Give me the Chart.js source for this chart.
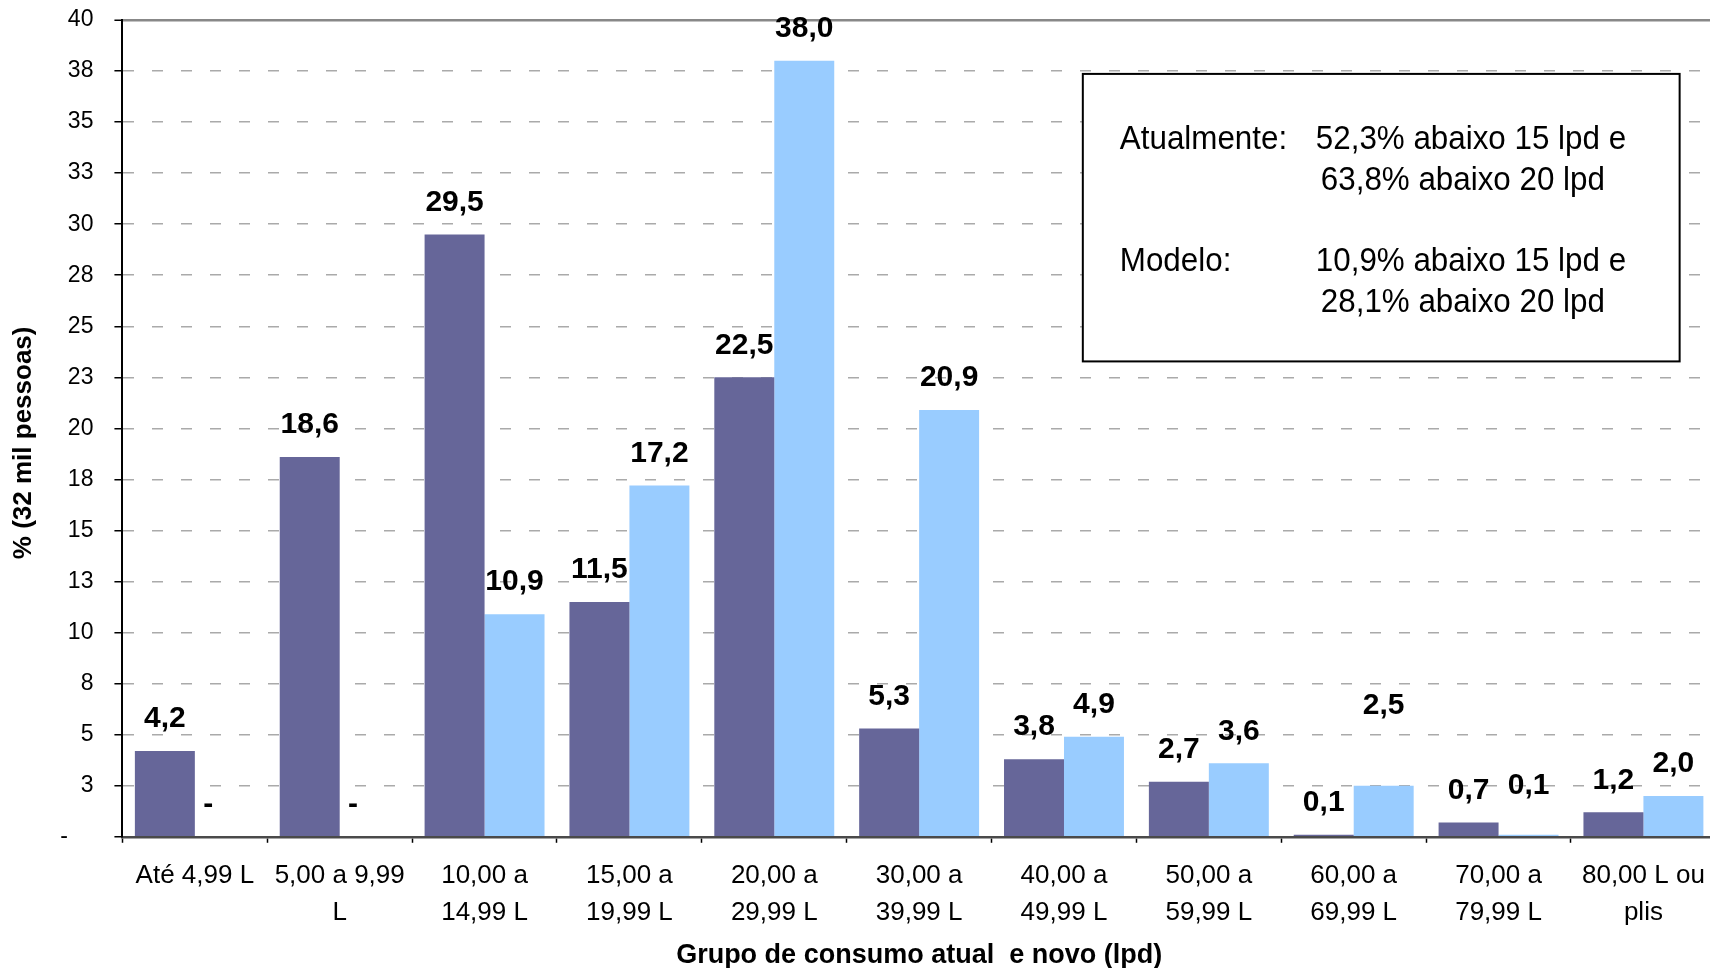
<!DOCTYPE html>
<html lang="pt">
<head>
<meta charset="utf-8">
<title>Grupo de consumo atual e novo</title>
<script src="https://cdn.jsdelivr.net/npm/chart.js@4.4.1/dist/chart.umd.min.js"></script>
<style>
  html, body { margin: 0; padding: 0; background: #fff; overflow: hidden; }
  #wrap { position: relative; width: 1720px; height: 968px; }
</style>
</head>
<body>
<div id="wrap"><canvas id="consumoChart"></canvas></div>
<script>
const categorias = [
    ['Até 4,99 L'],
    ['5,00 a 9,99', 'L'],
    ['10,00 a', '14,99 L'],
    ['15,00 a', '19,99 L'],
    ['20,00 a', '29,99 L'],
    ['30,00 a', '39,99 L'],
    ['40,00 a', '49,99 L'],
    ['50,00 a', '59,99 L'],
    ['60,00 a', '69,99 L'],
    ['70,00 a', '79,99 L'],
    ['80,00 L ou', 'plis']
];
const atual = [4.2, 18.6, 29.5, 11.5, 22.5, 5.3, 3.8, 2.7, 0.1, 0.7, 1.2];
const modelo = [0, 0, 10.9, 17.2, 38.0, 20.9, 4.9, 3.6, 2.5, 0.1, 2.0];
const yTicks = ['-    ', '3', '5', '8', '10', '13', '15', '18', '20', '23', '25', '28', '30', '33', '35', '38', '40'];
const notaLinhas = [
    ['Atualmente:', '52,3% abaixo 15 lpd e'],
    ['', '63,8% abaixo 20 lpd'],
    ['Modelo:', '10,9% abaixo 15 lpd e'],
    ['', '28,1% abaixo 20 lpd']
];

const FONTE = '"Liberation Sans", Arial, sans-serif';

// formato contábil do Excel: zero vira "-"
function fmt(v) {
    return v === 0 ? '-    ' : v.toFixed(1).replace('.', ',');
}

// alguns rótulos estão mais altos no original
const ajusteRotulo = { '1-8': 48, '1-9': 17 };

const rotulos = {
    id: 'rotulos',
    afterDatasetsDraw(chart) {
        const c = chart.ctx;
        c.save();
        c.font = 'bold 30px ' + FONTE;
        c.fillStyle = '#000';
        c.textAlign = 'center';
        c.textBaseline = 'middle';
        chart.data.datasets.forEach((ds, di) => {
            chart.getDatasetMeta(di).data.forEach((bar, i) => {
                const extra = ajusteRotulo[di + '-' + i] || 0;
                c.fillText(fmt(ds.data[i]), bar.x, bar.y - 32 - extra);
            });
        });
        c.restore();
    }
};

const nota = {
    id: 'nota',
    afterDraw(chart) {
        const { ctx: c, scales: { x, y } } = chart;
        const l = x.getPixelForValue(6.13), r = x.getPixelForValue(10.25);
        const t = y.getPixelForValue(37.36), b = y.getPixelForValue(23.28);
        c.save();
        c.fillStyle = '#fff';
        c.fillRect(l, t, r - l, b - t);
        c.strokeStyle = '#000';
        c.lineWidth = 2;
        c.strokeRect(l, t, r - l, b - t);
        c.fillStyle = '#000';
        c.font = '33px ' + FONTE;
        c.textBaseline = 'alphabetic';
        const linhas = [75, 116, 197, 238];
        const col2 = [233, 238, 233, 238];
        notaLinhas.forEach((ln, i) => {
            c.save();
            c.translate(l, t + linhas[i]);
            c.scale(0.95, 1);
            if (ln[0]) c.fillText(ln[0], 37 / 0.95, 0);
            c.fillText(ln[1], col2[i] / 0.95, 0);
            c.restore();
        });
        c.restore();
    }
};

document.addEventListener('DOMContentLoaded', function () {
    const el = document.getElementById('consumoChart');
    if (!el) return;

    Chart.defaults.font.family = FONTE;
    Chart.defaults.color = '#000';

    const ctx = el.getContext('2d');

    new Chart(ctx, {
        type: 'bar',
        data: {
            labels: categorias,
            datasets: [{
                label: 'Atual',
                data: atual,
                backgroundColor: '#666699',
                categoryPercentage: 0.828,
                barPercentage: 1
            }, {
                label: 'Modelo',
                data: modelo,
                backgroundColor: '#99CCFF',
                categoryPercentage: 0.828,
                barPercentage: 1
            }]
        },
        options: {
            responsive: true,
            maintainAspectRatio: false,
            animation: false,
            layout: { padding: { left: 0, top: 20, right: 3, bottom: 0 } },
            plugins: {
                legend: { display: false },
                tooltip: { enabled: false }
            },
            scales: {
                x: {
                    grid: {
                        drawOnChartArea: false,
                        drawTicks: true,
                        tickLength: 6,
                        tickColor: '#000',
                        tickWidth: 1.5
                    },
                    border: { color: '#4a4a4a', width: 2.5 },
                    ticks: {
                        font: { size: 26, lineHeight: 1.41 },
                        color: '#000',
                        padding: 15,
                        maxRotation: 0,
                        autoSkip: false
                    },
                    title: {
                        display: true,
                        text: 'Grupo de consumo atual  e novo (lpd)',
                        font: { size: 27, weight: 'bold', lineHeight: 0.7 },
                        color: '#000',
                        padding: { top: 0, bottom: 3 }
                    }
                },
                y: {
                    min: 0,
                    max: 40,
                    // o padding dos rótulos não deve empurrar a área do gráfico
                    afterFit: (scale) => {
                        scale.paddingTop = 0;
                        scale.paddingBottom = 0;
                    },
                    ticks: {
                        stepSize: 2.5,
                        font: { size: 23 },
                        color: '#000',
                        padding: 21,
                        callback: (v, i) => yTicks[i]
                    },
                    grid: {
                        color: (c) => c.tick && c.tick.value === 40 ? '#888' : (c.tick && c.tick.value === 0 ? 'rgba(0,0,0,0)' : '#aaa'),
                        lineWidth: (c) => c.tick && c.tick.value === 40 ? 2.5 : 1.5,
                        tickLength: 8,
                        tickColor: '#000',
                        tickWidth: 1.5
                    },
                    border: {
                        color: '#000',
                        width: 2,
                        dash: (c) => c.tick && c.tick.value === 40 ? [] : [11, 18]
                    },
                    title: {
                        display: true,
                        text: '% (32 mil pessoas)    ',
                        font: { size: 26, weight: 'bold', lineHeight: 1.2 },
                        color: '#000',
                        padding: { top: 8, bottom: 0 }
                    }
                }
            }
        },
        plugins: [rotulos, nota]
    });
});
</script>
</body>
</html>
